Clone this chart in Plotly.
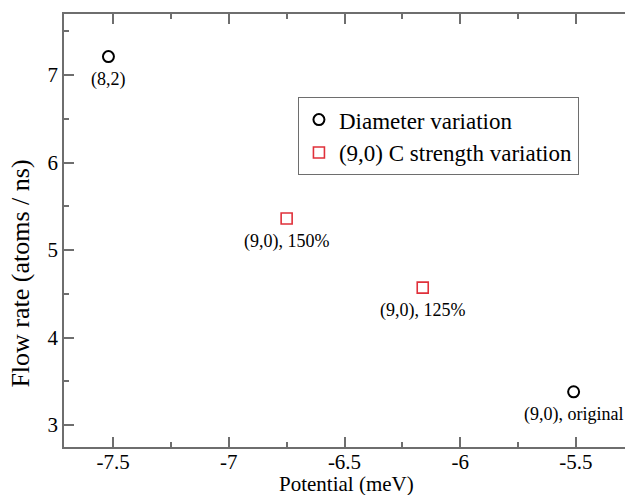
import plotly.graph_objects as go

# Data
diam_x = [-7.52, -5.51]
diam_y = [7.21, 3.38]
diam_labels = ["(8,2)", "(9,0), original"]

cstr_x = [-6.75, -6.162]
cstr_y = [5.36, 4.57]
cstr_labels = ["(9,0), 150%", "(9,0), 125%"]

x_ticks = [-7.5, -7, -6.5, -6, -5.5]
y_ticks = [3, 4, 5, 6, 7]

x_title = "Potential (meV)"
y_title = "Flow rate (atoms / ns)"

FONT = "Liberation Serif"
AX = "#6e6e6e"
TICKFONT = dict(family=FONT, size=21, color="black")

fig = go.Figure()
fig.add_trace(go.Scatter(
    x=diam_x, y=diam_y, mode="markers", name="Diameter variation",
    marker=dict(symbol="circle-open", size=11, color="black", line=dict(width=2, color="black")),
))
fig.add_trace(go.Scatter(
    x=cstr_x, y=cstr_y, mode="markers", name="(9,0) C strength variation",
    marker=dict(symbol="square-open", size=11, color="#e0303a", line=dict(width=1.6, color="#e0303a")),
))

for xs, ys, labs in [(diam_x, diam_y, diam_labels), (cstr_x, cstr_y, cstr_labels)]:
    for x, y, t in zip(xs, ys, labs):
        fig.add_annotation(x=x, y=y, text=t, showarrow=False, yshift=-23,
                           font=dict(family=FONT, size=18, color="black"))

fig.add_annotation(xref="paper", yref="paper", x=0.504, y=-0.086, text=x_title,
                   xanchor="center", yanchor="middle",
                   showarrow=False, font=dict(family=FONT, size=21, color="black"))
fig.add_annotation(xref="paper", yref="paper", x=-0.077, y=0.40, text=y_title,
                   xanchor="center", yanchor="middle",
                   textangle=-90, showarrow=False, font=dict(family=FONT, size=26, color="black"))

fig.update_layout(
    width=625, height=495,
    margin=dict(l=64, r=0, t=14, b=48),
    plot_bgcolor="white", paper_bgcolor="white",
    font=dict(family=FONT, color="black"),
    showlegend=True,
    legend=dict(x=0.417, y=0.808, xanchor="left", yanchor="top",
                bordercolor=AX, borderwidth=1, bgcolor="white",
                font=dict(family=FONT, size=23, color="black"),
                itemwidth=30, tracegroupgap=0),
    xaxis=dict(
        range=[-7.712, -5.288], tickmode="array", tickvals=x_ticks,
        ticktext=[str(v) for v in x_ticks],
        ticks="inside", ticklen=10, tickwidth=1.5, tickcolor=AX,
        minor=dict(ticks="inside", ticklen=5, tickwidth=1.5, tickcolor=AX, dtick=0.25),
        showline=True, linecolor=AX, linewidth=1.5, mirror="ticks",
        showgrid=False, zeroline=False, tickfont=TICKFONT,
        ticklabelstandoff=-5,
    ),
    yaxis=dict(
        range=[2.749, 7.697], tickmode="array", tickvals=y_ticks,
        ticktext=[str(v) for v in y_ticks],
        ticks="inside", ticklen=10, tickwidth=1.5, tickcolor=AX,
        minor=dict(ticks="inside", ticklen=5, tickwidth=1.5, tickcolor=AX, dtick=0.5),
        showline=True, linecolor=AX, linewidth=1.5, mirror=False,
        showgrid=False, zeroline=False, tickfont=TICKFONT,
    ),
)

fig.write_html("out.html")
